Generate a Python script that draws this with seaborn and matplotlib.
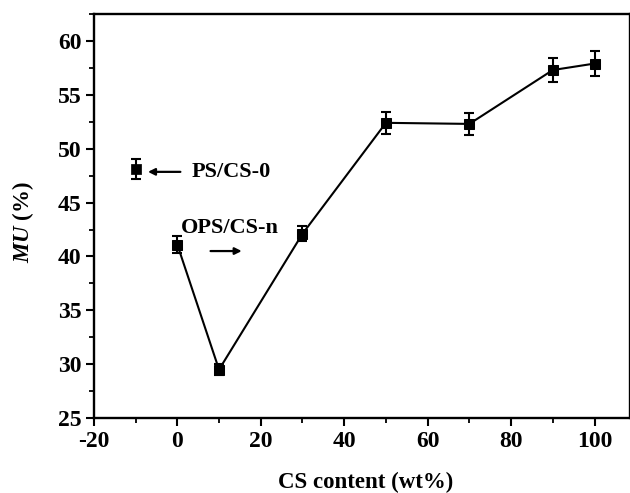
import matplotlib
matplotlib.use("Agg")
import matplotlib.pyplot as plt
import seaborn as sns
import pandas as pd
from matplotlib.ticker import MultipleLocator

# data
ref_x = [-10]
ref_y = [48.1]
ref_err = [0.9]
cs_content = [0, 10, 30, 50, 70, 90, 100]
mu_values = [41.1, 29.5, 42.1, 52.4, 52.3, 57.3, 57.9]
mu_err = [0.8, 0.5, 0.7, 1.0, 1.05, 1.15, 1.15]
x_label = "CS content (wt%)"
label_ps = "PS/CS-0"
label_ops = "OPS/CS-n"

sns.set_theme(style="ticks")
plt.rcParams['font.family'] = ['Liberation Serif', 'DejaVu Serif']
plt.rcParams['font.weight'] = 'bold'
plt.rcParams['axes.unicode_minus'] = False
plt.rcParams['text.color'] = 'black'
plt.rcParams['axes.labelcolor'] = 'black'
plt.rcParams['xtick.color'] = 'black'
plt.rcParams['ytick.color'] = 'black'
plt.rcParams['mathtext.fontset'] = 'custom'
plt.rcParams['mathtext.it'] = 'Liberation Serif:italic:bold'
plt.rcParams['mathtext.rm'] = 'Liberation Serif:bold'

fig = plt.figure(figsize=(6.3, 4.93), dpi=100)
ax = fig.add_axes([0.149, 0.152, 0.851, 0.8196])

df = pd.DataFrame({"x": cs_content, "y": mu_values})
dref = pd.DataFrame({"x": ref_x, "y": ref_y})

ax.errorbar(cs_content, mu_values, yerr=mu_err, fmt='none', ecolor='black',
            elinewidth=1.5, capsize=3.5, capthick=1.5, zorder=2)
ax.errorbar(ref_x, ref_y, yerr=ref_err, fmt='none', ecolor='black',
            elinewidth=1.5, capsize=3.5, capthick=1.5, zorder=2)
sns.lineplot(data=df, x="x", y="y", ax=ax, color='black', linewidth=1.5,
             marker='s', markersize=6.5, markeredgecolor='black', zorder=3)
sns.scatterplot(data=dref, x="x", y="y", ax=ax, color='black', marker='s',
                s=42, edgecolor='black', zorder=3)

ax.set_xlim(-20, 108.5)
ax.set_ylim(25, 62.5)
ax.xaxis.set_major_locator(MultipleLocator(20))
ax.xaxis.set_minor_locator(MultipleLocator(10))
ax.yaxis.set_major_locator(MultipleLocator(5))
ax.yaxis.set_minor_locator(MultipleLocator(2.5))
ax.tick_params(which='major', direction='out', length=6, width=1.5,
               labelsize=17, top=False, right=False, colors='black', pad=3)
ax.tick_params(which='minor', direction='out', length=3.5, width=1.3,
               top=False, right=False, colors='black')
for lab in ax.get_xticklabels() + ax.get_yticklabels():
    lab.set_fontweight('bold')
for s in ax.spines.values():
    s.set_linewidth(1.7)
    s.set_color('black')

ax.set_xlabel(x_label, fontsize=16.5, fontweight='bold')
ax.xaxis.set_label_coords(0.506, -0.134)
ax.set_ylabel(r"$MU$ (%)", fontsize=16.5, fontweight='bold')
ax.yaxis.set_label_coords(-0.108, 0.485)

ax.annotate("", xy=(-7.7, 47.85), xytext=(1.4, 47.85),
            arrowprops=dict(arrowstyle='-|>', color='black', lw=1.6,
                            mutation_scale=10))
ax.text(3.5, 47.85, label_ps, fontsize=16, fontweight='bold', va='center', ha='left')
ax.text(0.9, 42.6, label_ops, fontsize=16, fontweight='bold', va='center', ha='left')
ax.annotate("", xy=(16.1, 40.5), xytext=(7.3, 40.5),
            arrowprops=dict(arrowstyle='-|>', color='black', lw=1.6,
                            mutation_scale=10))

fig.savefig("out.png", dpi=100)
